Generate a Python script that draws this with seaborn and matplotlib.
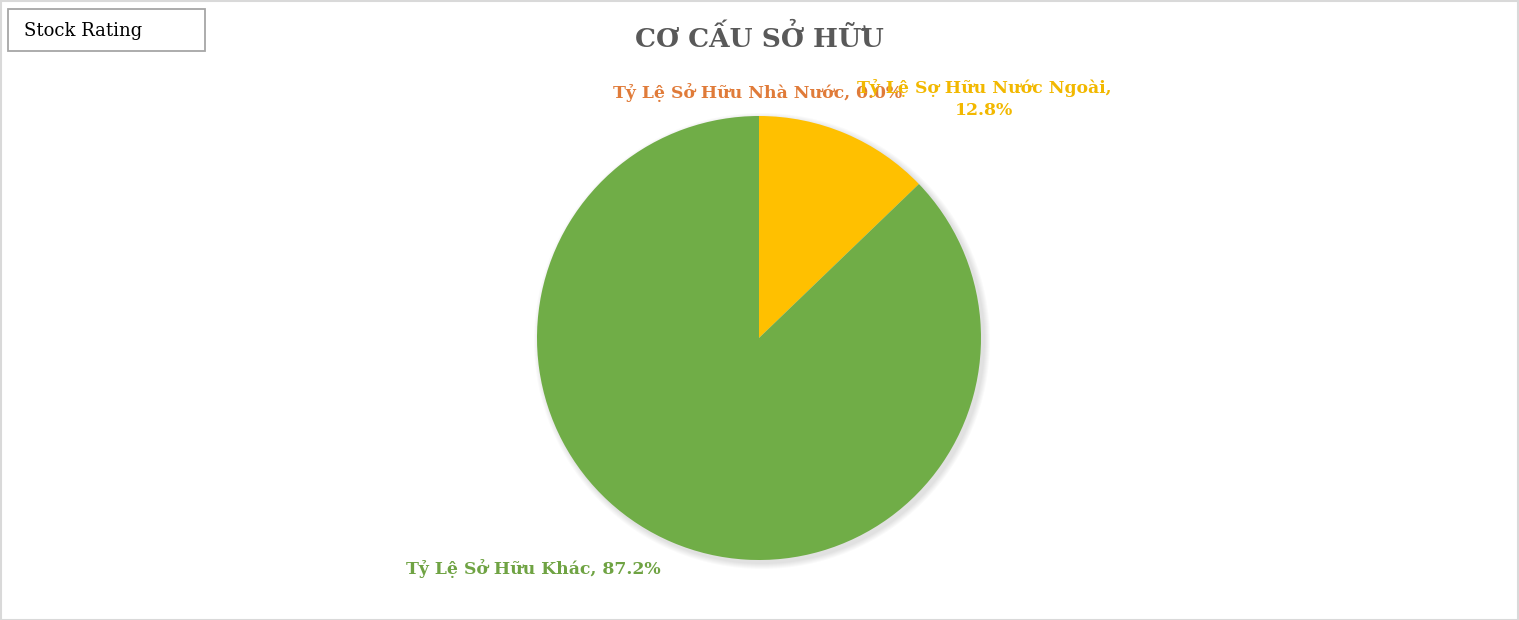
import matplotlib
matplotlib.use("Agg")
from matplotlib import pyplot as plt
from matplotlib.patches import Rectangle, Circle
import seaborn as sns

# ownership structure data
owners = ["Tỷ Lệ Sở Hữu Nhà Nước", "Tỷ Lệ Sợ Hữu Nước Ngoài", "Tỷ Lệ Sở Hữu Khác"]
shares = [0.0, 12.8, 87.2]
slice_colors = ["#ED7D31", "#FFC000", "#70AD47"]
label_colors = ["#E07B39", "#F2B800", "#6FA343"]

sns.set_theme(style="white")
plt.rcParams['font.family'] = ['DejaVu Serif', 'DejaVu Sans']

W, H = 1519, 620
fig = plt.figure(figsize=(W / 100, H / 100), dpi=100)
fig.patch.set_facecolor("white")
ax = fig.add_axes([0, 0, 1, 1])

# pie in pixel-like coordinates (y up)
cx, cy, r = 759, H - 338, 222

# soft shadow
for k in range(6):
    ax.add_patch(Circle((cx + 3, cy - 3), r + 1 + k, color="#000000",
                        alpha=0.02, lw=0, zorder=0))

ax.pie(shares, colors=slice_colors, startangle=90, counterclock=False,
       center=(cx, cy), radius=r, wedgeprops=dict(linewidth=0),
       normalize=True)

ax.set_xlim(0, W)
ax.set_ylim(0, H)
ax.set_aspect("auto")
ax.axis("off")

# data labels
lab_font = dict(fontsize=12.4, fontweight="bold", ha="center", va="center")
ax.text(758, H - 93, f"{owners[0]}, {shares[0]:.1f}%", color=label_colors[0], **lab_font)
ax.text(984, H - 99, f"{owners[1]},\n{shares[1]:.1f}%", color=label_colors[1],
        linespacing=1.35, **lab_font)
ax.text(533, H - 569, f"{owners[2]}, {shares[2]:.1f}%", color=label_colors[2], **lab_font)

# title
ax.text(759, H - 38, "CƠ CẤU SỞ HỮU", fontsize=19, fontweight="bold",
        color="#595959", ha="center", va="center")

# stock rating box
ax.add_patch(Rectangle((8, H - 51), 197, 42, fill=False, edgecolor="#A6A6A6", lw=1.3))
ax.text(24, H - 31, "Stock Rating", fontsize=13, color="black", ha="left", va="center")

# outer frame
ax.add_patch(Rectangle((0.5, 0.5), W - 1.5, H - 1.5, fill=False, edgecolor="#D9D9D9", lw=1.5))

fig.savefig("out.png", dpi=100)
